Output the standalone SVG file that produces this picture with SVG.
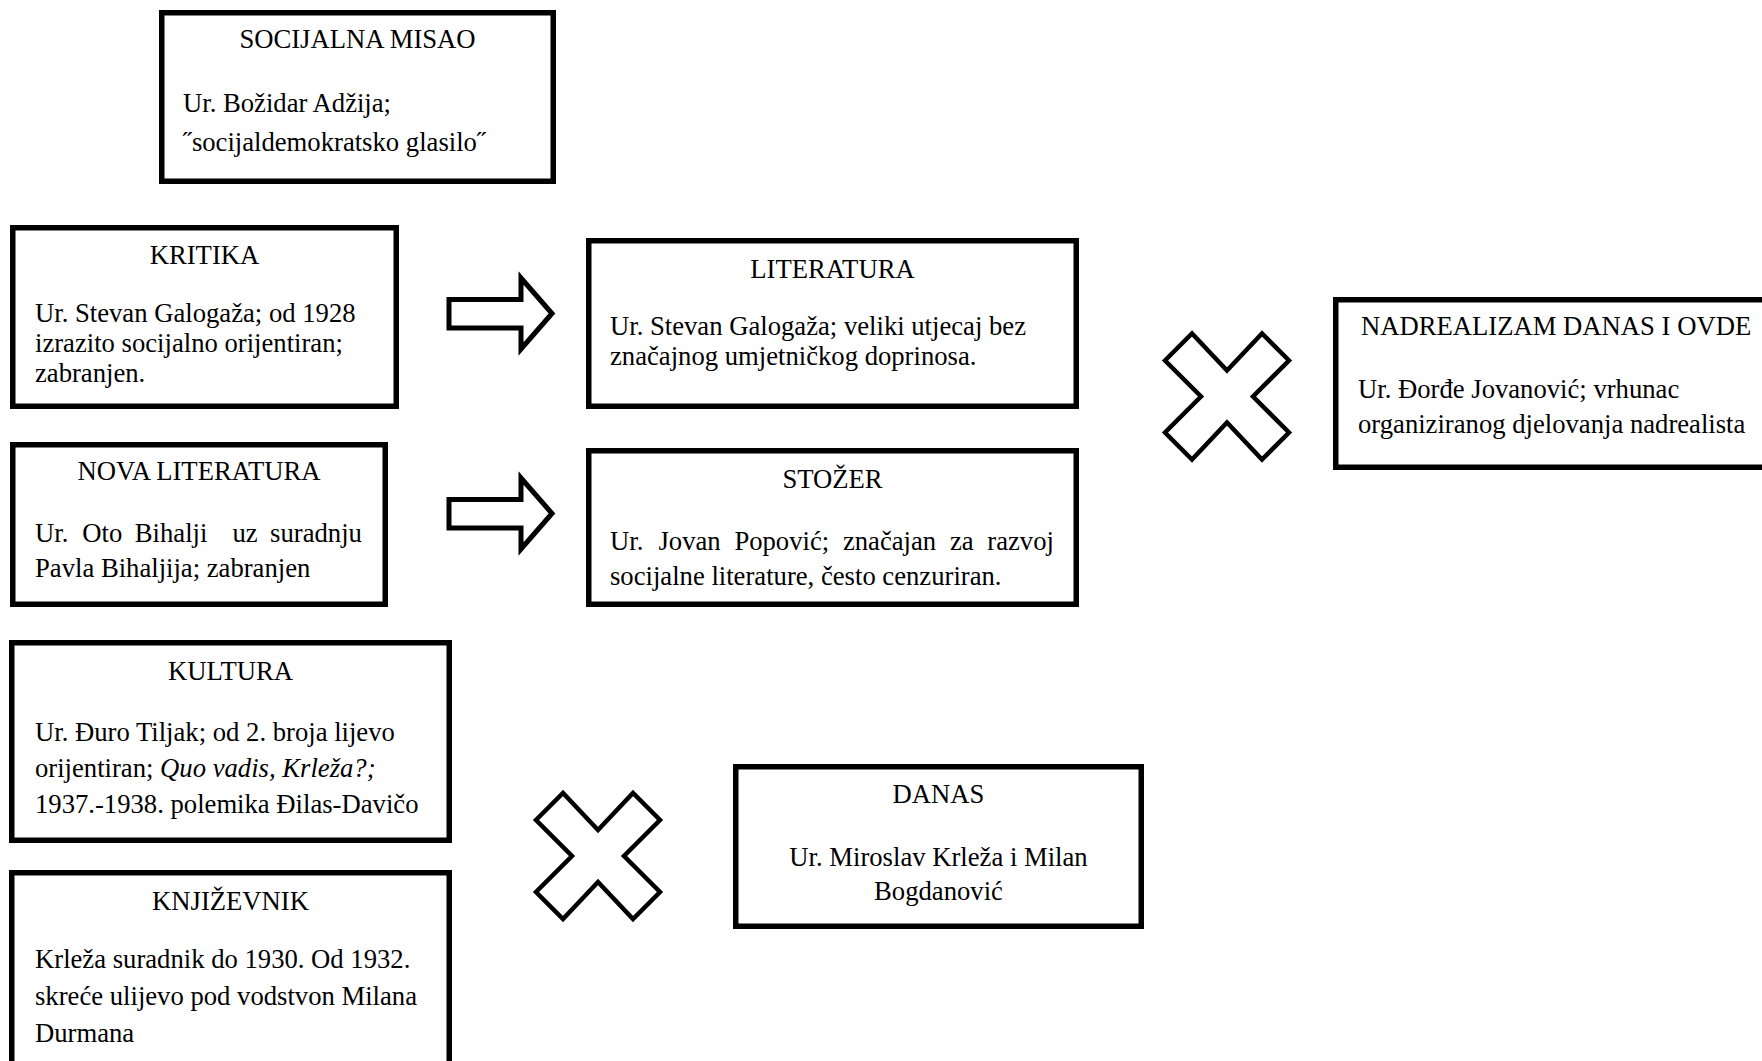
<svg xmlns="http://www.w3.org/2000/svg" width="1762" height="1061" viewBox="0 0 1762 1061">
<style>
.box{fill:#fff;stroke:#000;stroke-width:5.5}
.t{font-family:"Liberation Serif","Times New Roman",serif;font-size:26.67px;fill:#000}
.c{text-anchor:middle}
.arrow{fill:#fff;stroke:#000;stroke-width:5;stroke-linejoin:miter}
.cross{fill:#fff;stroke:#000;stroke-width:4.5;stroke-linejoin:miter}
</style>
<defs>
<polygon id="arr" points="449,299.5 521,299.5 521,278 552,313.5 521,349 521,328 449,328"/>
<polygon id="x" points="-62,-36 -35,-63 0,-26 35,-63 62,-36 26,0 62,36 35,63 0,26 -35,63 -62,36 -26,0"/>
</defs>
<rect width="1762" height="1061" fill="#fff"/>

<g id="socijalna-misao">
<rect class="box" x="161.75" y="12.75" width="391.5" height="168.5"/>
<text class="t c" x="357.5" y="48">SOCIJALNA MISAO</text>
<text class="t" x="183" y="112">Ur. Božidar Adžija;</text>
<text class="t" x="183" y="151">˝socijaldemokratsko glasilo˝</text>
</g>

<g id="kritika">
<rect class="box" x="12.75" y="227.75" width="383.5" height="178.5"/>
<text class="t c" x="204.5" y="264">KRITIKA</text>
<text class="t" x="35" y="321.5">Ur. Stevan Galogaža; od 1928</text>
<text class="t" x="35" y="351.5">izrazito socijalno orijentiran;</text>
<text class="t" x="35" y="381.5">zabranjen.</text>
</g>

<g id="nova-literatura">
<rect class="box" x="12.75" y="444.75" width="372.5" height="159.5"/>
<text class="t c" x="199" y="480">NOVA LITERATURA</text>
<text class="t" y="542"><tspan x="35">Ur.</tspan><tspan x="82.3">Oto</tspan><tspan x="134.8">Bihalji</tspan><tspan x="232.4">uz</tspan><tspan x="270.1">suradnju</tspan></text>
<text class="t" x="35" y="577">Pavla Bihaljija; zabranjen</text>
</g>

<g id="kultura">
<rect class="box" x="11.75" y="642.75" width="437.5" height="197.5"/>
<text class="t c" x="230.5" y="680">KULTURA</text>
<text class="t" x="35" y="741">Ur. Đuro Tiljak; od 2. broja lijevo</text>
<text class="t" x="35" y="777">orijentiran; <tspan font-style="italic">Quo vadis, Krleža?;</tspan></text>
<text class="t" x="35" y="813">1937.-1938. polemika Đilas-Davičo</text>
</g>

<g id="knjizevnik">
<rect class="box" x="11.75" y="872.75" width="437.5" height="250"/>
<text class="t c" x="230.5" y="910">KNJIŽEVNIK</text>
<text class="t" x="35" y="968">Krleža suradnik do 1930. Od 1932.</text>
<text class="t" x="35" y="1005">skreće ulijevo pod vodstvon Milana</text>
<text class="t" x="35" y="1042">Durmana</text>
</g>

<g id="literatura">
<rect class="box" x="588.75" y="240.75" width="487.5" height="165.5"/>
<text class="t c" x="832.5" y="278">LITERATURA</text>
<text class="t" x="610" y="335">Ur. Stevan Galogaža; veliki utjecaj bez</text>
<text class="t" x="610" y="365">značajnog umjetničkog doprinosa.</text>
</g>

<g id="stozer">
<rect class="box" x="588.75" y="450.75" width="487.5" height="153.5"/>
<text class="t c" x="832.5" y="488">STOŽER</text>
<text class="t" y="550"><tspan x="610">Ur.</tspan><tspan x="658.5">Jovan</tspan><tspan x="734.4">Popović;</tspan><tspan x="842.9">značajan</tspan><tspan x="949.9">za</tspan><tspan x="987.3">razvoj</tspan></text>
<text class="t" x="610" y="585">socijalne literature, često cenzuriran.</text>
</g>

<g id="nadrealizam-danas-i-ovde">
<rect class="box" x="1335.75" y="299.75" width="500" height="167.5"/>
<text class="t" x="1361" y="335">NADREALIZAM DANAS I OVDE</text>
<text class="t" x="1358" y="398">Ur. Đorđe Jovanović; vrhunac</text>
<text class="t" x="1358" y="433">organiziranog djelovanja nadrealista</text>
</g>

<g id="danas">
<rect class="box" x="735.75" y="766.75" width="405.5" height="159.5"/>
<text class="t c" x="938.5" y="803">DANAS</text>
<text class="t c" x="938.5" y="866">Ur. Miroslav Krleža i Milan</text>
<text class="t c" x="938.5" y="900">Bogdanović</text>
</g>

<g id="connectors">
<use href="#arr" class="arrow"/>
<use href="#arr" class="arrow" transform="translate(0,200)"/>
<use href="#x" class="cross" transform="translate(1227,396.5)"/>
<use href="#x" class="cross" transform="translate(598,856)"/>
</g>
</svg>
